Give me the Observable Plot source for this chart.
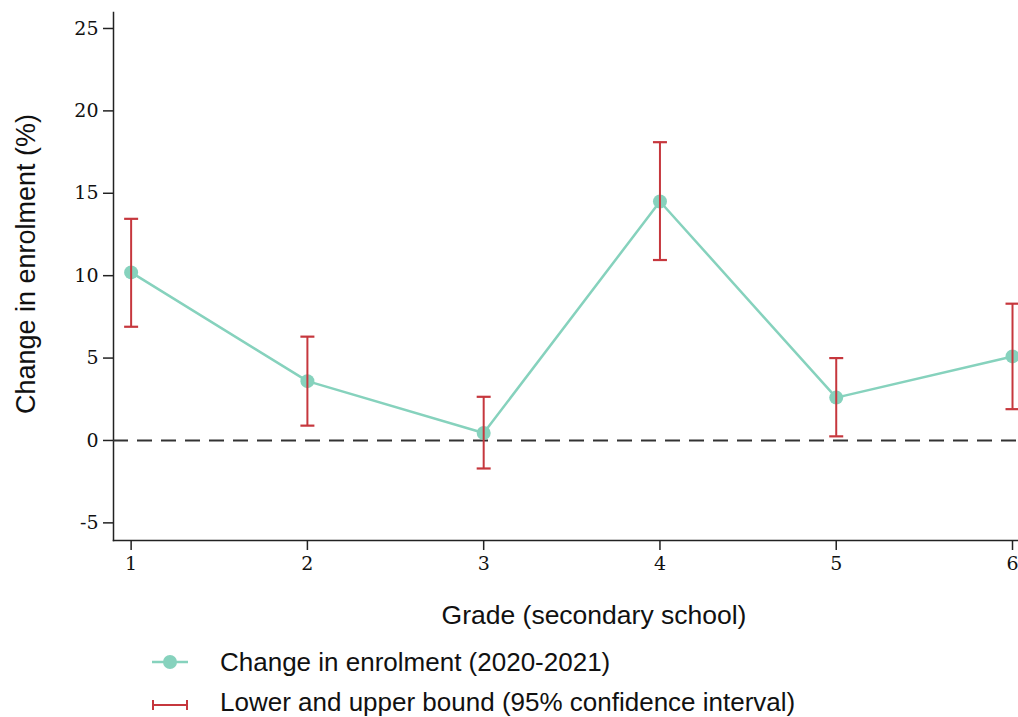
<!DOCTYPE html>
<html>
<head>
<meta charset="utf-8">
<script src="https://cdn.jsdelivr.net/npm/d3@7"></script>
<script src="https://cdn.jsdelivr.net/npm/@observablehq/plot@0.6"></script>
<style>
  body { margin: 0; background: #fff; }
  #wrap { position: relative; width: 1018px; height: 717px; overflow: hidden; }
  #wrap > svg { position: absolute; left: 0; top: 0; }
  .title { position: absolute; font-family: "Liberation Sans", Arial, sans-serif; font-size: 27px; color: #111; white-space: nowrap; line-height: 1; }
  #ylab { left: 26px; top: 264px; transform: translate(-50%, -50%) rotate(-90deg); }
  #xlab { left: 594px; top: 615px; transform: translate(-50%, -50%); font-size: 26.5px; }
  #legend { position: absolute; left: 150px; top: 642px; font-family: "Liberation Sans", Arial, sans-serif; font-size: 26px; color: #111; }
  .row { display: flex; align-items: center; height: 40px; line-height: 1; }
  .row svg { width: 40px; height: 20px; margin-right: 30px; flex: none; }
</style>
</head>
<body>
<div id="wrap">
  <div class="title" id="ylab">Change in enrolment (%)</div>
  <div class="title" id="xlab">Grade (secondary school)</div>
  <div id="legend">
    <div class="row"><svg viewBox="0 0 40 20"><line x1="2" x2="38" y1="10" y2="10" stroke="#86d2bd" stroke-width="2.5"/><circle cx="20" cy="10" r="7" fill="#86d2bd"/></svg><span>Change in enrolment (2020-2021)</span></div>
    <div class="row"><svg viewBox="0 0 40 20"><line x1="3" x2="37" y1="13" y2="13" stroke="#c6373d" stroke-width="2"/><line x1="3" x2="3" y1="8" y2="18" stroke="#c6373d" stroke-width="2"/><line x1="37" x2="37" y1="8" y2="18" stroke="#c6373d" stroke-width="2"/></svg><span>Lower and upper bound (95% confidence interval)</span></div>
  </div>
</div>
<script>
const grades = [1, 2, 3, 4, 5, 6];
const change = [10.2, 3.6, 0.45, 14.5, 2.6, 5.1];
const lower = [6.9, 0.9, -1.7, 10.95, 0.25, 1.9];
const upper = [13.45, 6.3, 2.65, 18.1, 5.0, 8.3];
const yTicks = [-5, 0, 5, 10, 15, 20, 25];

const data = grades.map((g, i) => ({grade: g, change: change[i], lo: lower[i], hi: upper[i]}));

const teal = "#86d2bd";
const red = "#c6373d";

// horizontal cap symbol for error bars
const cap = {draw(ctx, size) { const r = Math.sqrt(size / Math.PI); ctx.moveTo(-r, 0); ctx.lineTo(r, 0); }};

const chart = Plot.plot({
  width: 1018,
  height: 640,
  marginLeft: 113,
  marginRight: 0,
  marginTop: 12,
  marginBottom: 100,
  style: {fontFamily: "'DejaVu Serif', serif", fontSize: "19px", color: "#111", background: "transparent", overflow: "visible"},
  x: {domain: [0.9, 6.034]},
  y: {domain: [-6.07, 25.97]},
  marks: [
    Plot.frame({anchor: "left", stroke: "#222", strokeWidth: 1.5}),
    Plot.frame({anchor: "bottom", stroke: "#222", strokeWidth: 1.5}),
    Plot.ruleY([0], {stroke: "#333", strokeWidth: 2, strokeDasharray: "15,9"}),
    Plot.axisY(yTicks, {tickSize: 10, tickPadding: 5, stroke: "#222", strokeWidth: 1.5, fontSize: 19,
      tickFormat: d => String(d), label: null}),
    Plot.axisX(grades, {tickSize: 10, tickPadding: 6, stroke: "#222", strokeWidth: 1.5, fontSize: 19,
      tickFormat: d => String(d), label: null}),
    Plot.line(data, {x: "grade", y: "change", stroke: teal, strokeWidth: 2.5}),
    Plot.dot(data, {x: "grade", y: "change", r: 7, fill: teal, stroke: "none"}),
    Plot.ruleX(data, {x: "grade", y1: "lo", y2: "hi", stroke: red, strokeWidth: 2}),
    Plot.dot(data, {x: "grade", y: "lo", r: 7, symbol: cap, fill: "none", stroke: red, strokeWidth: 2.2}),
    Plot.dot(data, {x: "grade", y: "hi", r: 7, symbol: cap, fill: "none", stroke: red, strokeWidth: 2.2}),
  ]
});
document.getElementById("wrap").prepend(chart);
</script>
</body>
</html>
